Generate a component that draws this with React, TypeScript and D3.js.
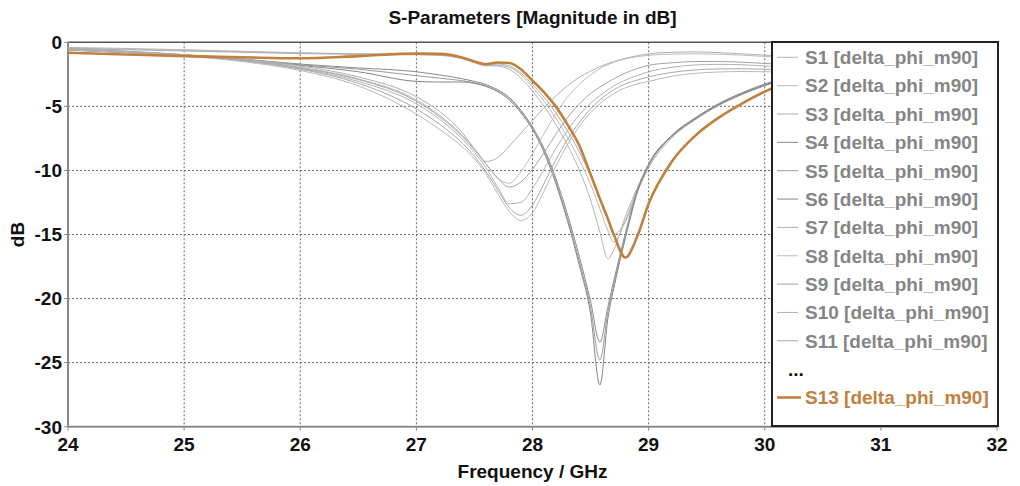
import React from "react";
import * as d3 from "d3";

const freqGHz = [24, 24.5, 25, 25.5, 26, 26.5, 27, 27.2, 27.4, 27.5, 27.6, 27.7, 27.8, 27.9, 28, 28.1, 28.2, 28.3, 28.4, 28.5, 28.58, 28.65, 28.7, 28.8, 28.9, 29, 29.2, 29.4, 29.6, 29.8, 30, 30.1];

const s1 = [-0.4, -0.48, -0.58, -0.7, -0.82, -0.9, -0.95, -1.0, -1.25, -1.55, -1.8, -1.85, -2.1, -2.8, -3.8, -5.0, -6.4, -8.0, -9.9, -12.3, -14.8, -16.9, -16.2, -13.6, -11.4, -9.6, -7.3, -5.95, -4.85, -4.0, -3.3, -3.0];
const s2 = [-0.45, -0.53, -0.62, -0.74, -0.86, -0.93, -0.97, -1.02, -1.3, -1.6, -1.85, -1.8, -1.95, -2.55, -3.5, -4.6, -5.9, -7.4, -9.1, -11.1, -13.0, -14.7, -15.6, -13.9, -11.5, -9.6, -7.3, -5.95, -4.85, -4.0, -3.3, -3.0];
const s3 = [-0.5, -0.58, -0.68, -0.78, -0.88, -0.92, -0.93, -0.97, -1.25, -1.55, -1.75, -1.7, -1.85, -2.4, -3.3, -4.3, -5.5, -6.9, -8.5, -10.4, -12.2, -13.9, -15.0, -14.0, -11.7, -9.8, -7.45, -6.05, -4.95, -4.1, -3.4, -3.1];
const s4 = [-0.55, -0.75, -0.98, -1.3, -1.7, -2.0, -2.3, -2.55, -2.85, -3.05, -3.3, -3.7, -4.3, -5.3, -6.6, -8.3, -10.6, -13.4, -16.6, -20.2, -23.4, -20.6, -18.6, -14.9, -11.6, -9.5, -7.25, -5.9, -4.8, -3.95, -3.25, -2.95];
const s5 = [-0.6, -0.8, -1.02, -1.35, -1.75, -2.1, -2.6, -2.8, -3.0, -3.15, -3.4, -3.8, -4.4, -5.4, -6.7, -8.4, -10.8, -13.7, -17.0, -20.7, -24.8, -21.0, -18.9, -15.1, -11.7, -9.55, -7.3, -5.95, -4.85, -4.0, -3.3, -3.0];
const s6 = [-0.6, -0.8, -1.05, -1.4, -1.8, -2.3, -3.05, -3.1, -3.1, -3.2, -3.45, -3.85, -4.5, -5.5, -6.8, -8.6, -11.0, -13.9, -17.3, -21.2, -26.75, -21.5, -19.2, -15.3, -11.8, -9.6, -7.35, -6.0, -4.9, -4.05, -3.35, -3.05];
const s7 = [-0.5, -0.7, -0.95, -1.3, -1.85, -2.7, -4.25, -5.4, -7.1, -8.3, -9.3, -9.0, -8.1, -7.1, -6.1, -5.1, -4.2, -3.4, -2.75, -2.25, -1.9, -1.65, -1.5, -1.25, -1.05, -0.9, -0.78, -0.75, -0.8, -0.9, -1.0, -1.05];
const s8 = [-0.55, -0.72, -1.0, -1.35, -1.95, -2.85, -4.5, -5.7, -7.3, -8.3, -9.5, -10.6, -11.0, -10.1, -8.7, -7.1, -5.6, -4.3, -3.3, -2.55, -2.05, -1.75, -1.55, -1.3, -1.12, -1.02, -0.92, -0.9, -0.93, -1.0, -1.1, -1.15];
const s9 = [-0.5, -0.7, -0.98, -1.35, -2.0, -2.9, -4.6, -5.8, -7.4, -8.4, -9.5, -10.6, -11.3, -10.9, -9.9, -8.6, -7.2, -5.9, -4.85, -4.0, -3.5, -3.1, -2.85, -2.4, -2.05, -1.8, -1.6, -1.5, -1.5, -1.55, -1.65, -1.7];
const s10 = [-0.55, -0.75, -1.02, -1.4, -2.05, -3.05, -4.8, -6.0, -7.6, -8.6, -9.8, -11.3, -12.6, -12.5, -11.4, -9.9, -8.3, -6.9, -5.7, -4.75, -4.15, -3.7, -3.4, -2.95, -2.6, -2.3, -1.95, -1.77, -1.72, -1.75, -1.85, -1.9];
const s11 = [-0.55, -0.78, -1.05, -1.45, -2.1, -3.2, -5.2, -6.4, -7.9, -8.9, -10.1, -11.5, -12.9, -13.5, -12.7, -11.0, -9.2, -7.6, -6.3, -5.2, -4.5, -4.0, -3.7, -3.25, -2.95, -2.7, -2.35, -2.16, -2.08, -2.07, -2.1, -2.12];
const s12 = [-0.6, -0.8, -1.08, -1.5, -2.2, -3.4, -5.6, -6.8, -8.2, -9.1, -10.3, -11.8, -13.2, -13.9, -13.3, -11.6, -9.7, -8.0, -6.6, -5.5, -4.8, -4.3, -4.0, -3.55, -3.25, -3.05, -2.65, -2.42, -2.32, -2.28, -2.3, -2.3];
const s13 = [-0.82, -0.95, -1.08, -1.17, -1.25, -1.08, -0.88, -0.9, -1.2, -1.5, -1.7, -1.58, -1.62, -2.1, -3.0, -3.9, -5.0, -6.4, -8.0, -10.3, -12.2, -13.8, -15.0, -16.8, -15.2, -12.6, -9.3, -7.3, -5.9, -4.8, -3.85, -3.45];

const seriesNames = ["S1", "S2", "S3", "S4", "S5", "S6", "S7", "S8", "S9", "S10", "S11", "S12", "S13"];
const seriesValues = [s1, s2, s3, s4, s5, s6, s7, s8, s9, s10, s11, s12, s13];
const seriesColors = ["#b4b4b4", "#bababa", "#acacac", "#8a8a8a", "#9c9c9c", "#858585", "#b0b0b0", "#bcbcbc", "#a4a4a4", "#b2b2b2", "#a8a8a8", "#b8b8b8", "#c1803e"];

const legendEntries = ["S1", "S2", "S3", "S4", "S5", "S6", "S7", "S8", "S9", "S10", "S11", "...", "S13"];
const legendSuffix = " [delta_phi_m90]";

const xTicks = [24, 25, 26, 27, 28, 29, 30, 31, 32];
const yTicks = [0, -5, -10, -15, -20, -25, -30];

const titleText = "S-Parameters [Magnitude in dB]";
const xLabel = "Frequency / GHz";
const yLabel = "dB";

export default function App() {
  const W = 1020;
  const H = 486;
  const left = 68;
  const right = 997;
  const top = 42.3;
  const bottom = 426.7;
  const x = d3.scaleLinear().domain([24, 32]).range([left, right]);
  const y = d3.scaleLinear().domain([0, -30]).range([top, bottom]);
  const line = d3
    .line<number>()
    .x((_, i) => x(freqGHz[i]))
    .y((d) => y(d))
    .curve(d3.curveMonotoneX);

  const legX = 772;
  const legY = 42;
  const legW = 226;
  const legH = 384;
  const rowY0 = 57.3;
  const rowH = 28.35;
  const font = "'Liberation Sans', Arial, sans-serif";

  const order = [0, 1, 2, 3, 4, 5, 6, 7, 8, 9, 10, 11, 12];

  return (
    <svg width={W} height={H} style={{ position: "fixed", left: 0, top: 0, background: "#fff" }} fontFamily={font}>
      <defs>
        <clipPath id="plotClip">
          <rect x={left} y={top - 2} width={right - left} height={bottom - top + 4} />
        </clipPath>
      </defs>
      <rect x={0} y={0} width={W} height={H} fill="#fff" />
      {xTicks.slice(1, -1).map((t) => (
        <line key={"gx" + t} x1={x(t)} x2={x(t)} y1={top} y2={bottom} stroke="#6a6a6a" strokeWidth={1} strokeDasharray="2,2" />
      ))}
      {yTicks.slice(1, -1).map((t) => (
        <line key={"gy" + t} x1={left} x2={right} y1={y(t)} y2={y(t)} stroke="#6a6a6a" strokeWidth={1} strokeDasharray="2,2" />
      ))}
      <line x1={left} x2={right} y1={top} y2={top} stroke="#555" strokeWidth={1.5} />
      <line x1={left} x2={left} y1={top} y2={bottom} stroke="#8a8a8a" strokeWidth={2} />
      <line x1={left} x2={right} y1={bottom} y2={bottom} stroke="#8a8a8a" strokeWidth={2} />
      {xTicks.map((t) => (
        <line key={"tx" + t} x1={x(t)} x2={x(t)} y1={bottom} y2={bottom + 4} stroke="#8a8a8a" strokeWidth={1} />
      ))}
      {yTicks.map((t) => (
        <line key={"ty" + t} x1={left - 4} x2={left} y1={y(t)} y2={y(t)} stroke="#8a8a8a" strokeWidth={1} />
      ))}
      <g clipPath="url(#plotClip)">
        {order.map((i) => (
          <path
            key={seriesNames[i]}
            d={line(seriesValues[i]) || ""}
            fill="none"
            stroke={seriesColors[i]}
            strokeWidth={i === 12 ? 2.6 : 1}
            strokeLinejoin="round"
          />
        ))}
      </g>
      {xTicks.map((t) => (
        <text key={"lx" + t} x={x(t)} y={451} textAnchor="middle" fontSize={19} fontWeight="bold" fill="#111">
          {t}
        </text>
      ))}
      {yTicks.map((t) => (
        <text key={"ly" + t} x={62} y={y(t)} dy="0.36em" textAnchor="end" fontSize={19} fontWeight="bold" fill="#111">
          {t}
        </text>
      ))}
      <text x={(left + right) / 2} y={24} textAnchor="middle" fontSize={19} fontWeight="bold" fill="#111">
        {titleText}
      </text>
      <text x={(left + right) / 2} y={478} textAnchor="middle" fontSize={19} fontWeight="bold" fill="#111">
        {xLabel}
      </text>
      <text transform={`translate(24, ${(top + bottom) / 2}) rotate(-90)`} textAnchor="middle" fontSize={19} fontWeight="bold" fill="#111">
        {yLabel}
      </text>
      <rect x={legX} y={legY} width={legW} height={legH} fill="#fff" stroke="#222" strokeWidth={2} />
      {legendEntries.map((name, k) => {
        const cy = rowY0 + rowH * k;
        if (name === "...") {
          return (
            <text key="dots" x={788} y={cy} dy="0.36em" fontSize={19} fontWeight="bold" fill="#111">
              ...
            </text>
          );
        }
        const si = seriesNames.indexOf(name);
        const isMain = si === 12;
        return (
          <g key={name}>
            <line x1={777} x2={isMain ? 801 : 798} y1={cy} y2={cy} stroke={seriesColors[si]} strokeWidth={isMain ? 2.6 : 1} />
            <text x={805} y={cy} dy="0.36em" fontSize={19} fontWeight="bold" fill={isMain ? seriesColors[si] : "#858585"}>
              {name + legendSuffix}
            </text>
          </g>
        );
      })}
    </svg>
  );
}
